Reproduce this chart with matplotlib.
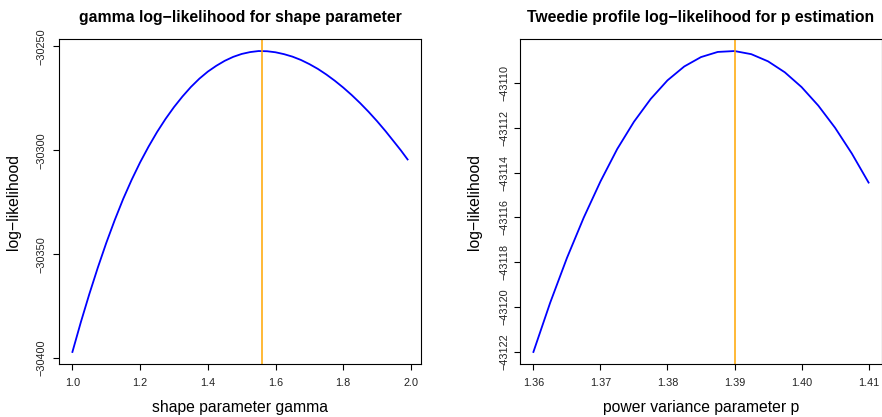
import matplotlib
matplotlib.use("Agg")
import matplotlib.pyplot as plt

plt.rcParams['font.family'] = ['Liberation Sans', 'DejaVu Sans']

# gamma shape parameter grid and log-likelihood
gamma_shape = [1.000, 1.025, 1.050, 1.075, 1.100, 1.125, 1.150, 1.175, 1.200, 1.225,
               1.250, 1.275, 1.300, 1.325, 1.350, 1.375, 1.400, 1.425, 1.450, 1.475,
               1.500, 1.525, 1.550, 1.575, 1.600, 1.625, 1.650, 1.675, 1.700, 1.725,
               1.750, 1.775, 1.800, 1.825, 1.850, 1.875, 1.900, 1.925, 1.950, 1.970,
               1.990]
gamma_ll = [-30397.1, -30382.7, -30369.2, -30356.5, -30344.6, -30333.6, -30323.4,
            -30314.2, -30305.8, -30298.2, -30291.2, -30284.9, -30279.2, -30274.1,
            -30269.5, -30265.5, -30262.1, -30259.3, -30256.9, -30255.0, -30253.6,
            -30252.7, -30252.2, -30252.3, -30252.8, -30253.7, -30254.9, -30256.5,
            -30258.5, -30260.8, -30263.5, -30266.5, -30269.8, -30273.4, -30277.3,
            -30281.5, -30286.0, -30290.8, -30295.9, -30300.0, -30304.4]
gamma_best = 1.56

# tweedie power variance grid and profile log-likelihood
tw_p = [1.36, 1.3625, 1.365, 1.3675, 1.37, 1.3725, 1.375, 1.3775, 1.38, 1.3825, 1.385,
        1.3875, 1.39, 1.3925, 1.395, 1.3975, 1.40, 1.4025, 1.405, 1.4075, 1.41]
tw_ll = [-43122.02, -43119.82, -43117.82, -43116.02, -43114.40, -43112.95, -43111.73,
         -43110.71, -43109.88, -43109.26, -43108.84, -43108.61, -43108.57, -43108.71,
         -43109.03, -43109.52, -43110.18, -43111.01, -43112.00, -43113.15, -43114.45]
tw_best = 1.39

gamma_xticks = [1.0, 1.2, 1.4, 1.6, 1.8, 2.0]
gamma_yticks = [-30400, -30350, -30300, -30250]
tw_xticks = [1.36, 1.37, 1.38, 1.39, 1.40, 1.41]
tw_yticks = [-43122, -43120, -43118, -43116, -43114, -43112, -43110]

fig = plt.figure(figsize=(8.82, 4.17), dpi=100)
ax1 = fig.add_axes([59 / 882, 1 - 364 / 417, 362 / 882, 325 / 417])
ax2 = fig.add_axes([520 / 882, 1 - 364 / 417, 362 / 882, 325 / 417])


def r_style(ax, x, y, best, xticks, yticks, xfmt, title, xlabel, ypad):
    ax.plot(x, y, color='blue', lw=1.3)
    ax.axvline(best, color='orange', lw=1.1)
    # R-style 4% padding on both axes
    xr = max(x) - min(x)
    yr = max(y) - min(y)
    ax.set_xlim(min(x) - 0.04 * xr, max(x) + 0.04 * xr)
    ax.set_ylim(min(y) - 0.04 * yr, max(y) + 0.04 * yr)
    ax.set_xticks(xticks)
    ax.set_xticklabels([xfmt.format(v) for v in xticks])
    ax.set_yticks(yticks)
    ax.set_yticklabels([str(v).replace('-', '\u2212') for v in yticks],
                       rotation=90, va='center')
    ax.tick_params(axis='both', direction='out', length=4.3, width=0.8,
                   labelsize=7.8, labelcolor='#222222')
    ax.tick_params(axis='x', pad=5.5)
    ax.tick_params(axis='y', pad=ypad)
    for s in ax.spines.values():
        s.set_linewidth(0.8)
    ax.set_title(title, fontsize=11.3, fontweight='bold', pad=12)
    ax.set_xlabel(xlabel, fontsize=11.3, labelpad=9)
    ax.set_ylabel('log\u2212likelihood', fontsize=11.3)
    ax.yaxis.set_label_coords(-38 / 362, 0.5)


r_style(ax1, gamma_shape, gamma_ll, gamma_best, gamma_xticks, gamma_yticks, '{:.1f}',
        'gamma log\u2212likelihood for shape parameter', 'shape parameter gamma', 5)
r_style(ax2, tw_p, tw_ll, tw_best, tw_xticks, tw_yticks, '{:.2f}',
        'Tweedie profile log\u2212likelihood for p estimation',
        'power variance parameter p', 3.5)

fig.savefig('out.png', dpi=100)
